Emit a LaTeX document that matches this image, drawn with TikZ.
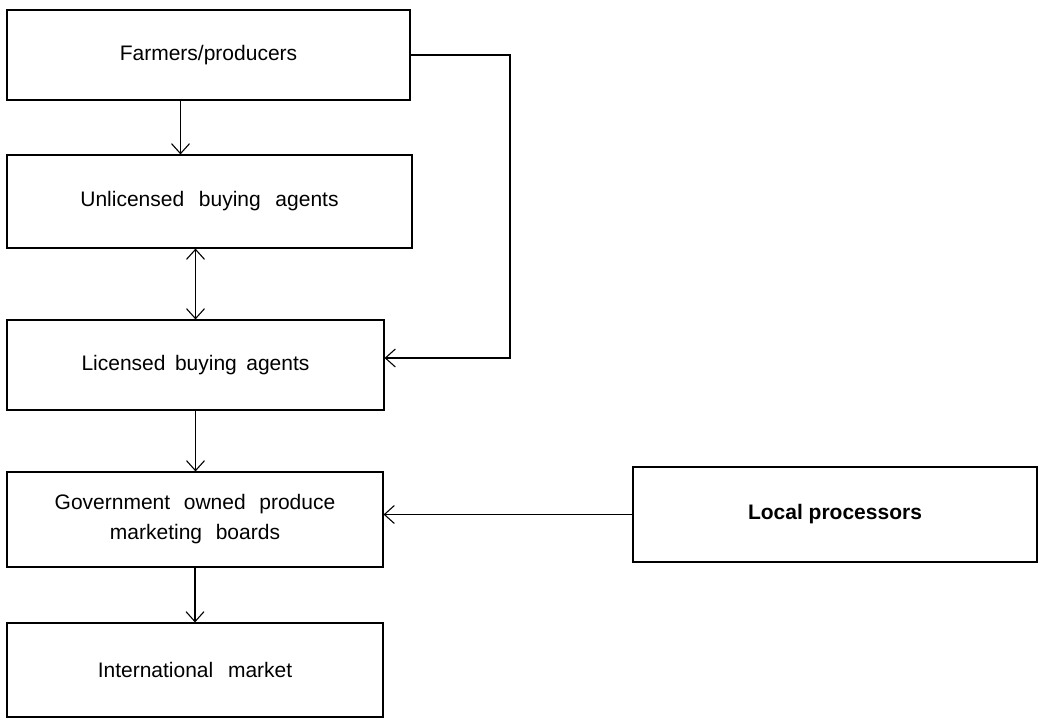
\documentclass[tikz,border=0pt]{standalone}
\usepackage{fontspec}
\setmainfont{Liberation Sans}
\usetikzlibrary{arrows.meta}
\newcommand\wsp[1]{\hspace{#1em}}
\begin{document}
\begin{tikzpicture}[x=1pt,y=-1pt,
  box/.style={draw, line width=1.1pt, inner sep=0pt, align=center,
    font=\fontsize{21}{30}\selectfont},
  conn/.style={line width=1.1pt, -{Straight Barb[length=10pt,width=18pt]}},
  conn2/.style={line width=1.1pt, {Straight Barb[length=10pt,width=18pt]}-{Straight Barb[length=10pt,width=18pt]}},
  plain/.style={line width=1.1pt}
]
\useasboundingbox (0,0) rectangle (1043,720);

\node[box, minimum width=403pt, minimum height=90pt] (farm) at (208.5,55) {Farmers/producers};
\node[box, minimum width=405pt, minimum height=93pt] (unl) at (209.5,201.5) {Unlicensed\wsp{0.7}buying\wsp{0.7}agents};
\node[box, minimum width=377pt, minimum height=90pt] (lic) at (195.5,365) {Licensed\wsp{0.45}buying\wsp{0.45}agents};
\node[box, minimum width=376pt, minimum height=95pt] (gov) at (195,519.5) {Government\wsp{0.65}owned\wsp{0.65}produce\\marketing\wsp{0.65}boards};
\node[box, minimum width=376pt, minimum height=94pt] (int) at (195,670) {International\wsp{0.7}market};
\node[box, minimum width=404pt, minimum height=95pt, font=\fontsize{21}{30}\selectfont\bfseries] (loc) at (835,514.5) {Local processors};

\coordinate (t1) at (510,55);
\coordinate (t2) at (510,358);
\draw[conn] (farm.east) -- (t1) -- (t2) -- (t2 -| lic.east);

\draw[conn] ([xshift=-28pt]farm.south) -- ([xshift=-28pt]farm.south |- unl.north);
\draw[conn2] (unl.south -| lic.north) -- (lic.north);
\draw[conn] (lic.south) -- (lic.south |- gov.north);
\draw[conn] (gov.south) -- (int.north);
\draw[conn] (loc.west) -- (loc.west -| gov.east);
\end{tikzpicture}
\end{document}
